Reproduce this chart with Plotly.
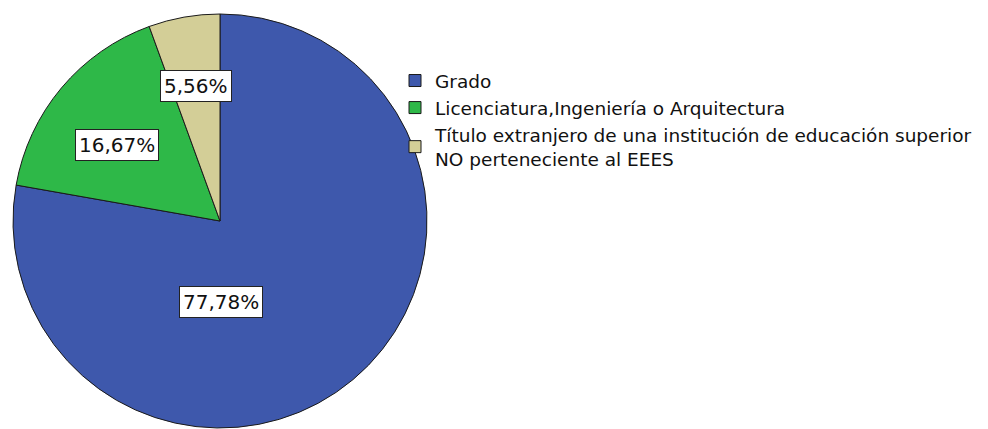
import math
import plotly.graph_objects as go

categories = [
    "Grado",
    "Licenciatura,Ingeniería o Arquitectura",
    "Título extranjero de una institución de educación superior<br>NO perteneciente al EEES",
]
counts = [14, 3, 1]
pct_labels = ["77,78%", "16,67%", "5,56%"]

colors = ["#3E58AC", "#2EB848", "#D3CE97"]

W, H = 988, 429
cx, cy, R = 212, 213, 207  # pie center/radius in px (layout)

fig = go.Figure()
fig.add_trace(go.Pie(
    labels=categories,
    values=counts,
    sort=False,
    direction="clockwise",
    rotation=0,
    textinfo="none",
    hoverinfo="label+percent",
    marker=dict(colors=colors, line=dict(color="#1a1a1a", width=1)),
    domain=dict(x=[(cx - R) / W, (cx + R) / W],
                y=[(H - cy - R) / H, (H - cy + R) / H]),
))

# label placement (style): radial fraction and angular offset per slice
label_rfrac = [0.39, 0.62, 0.66]
label_dang = [39.3, -3.7, 0]

total = sum(counts)
cum = 0
for v, txt, rf, da in zip(counts, pct_labels, label_rfrac, label_dang):
    mid = (cum + v / 2) / total * 360 + da
    cum += v
    th = math.radians(mid)
    px = cx + rf * R * math.sin(th)
    py = cy - rf * R * math.cos(th)
    fig.add_annotation(
        x=px / W, y=1 - py / H, xref="paper", yref="paper",
        xanchor="center", yanchor="middle",
        text=txt, showarrow=False,
        font=dict(family="DejaVu Sans", size=20, color="#111"),
        bgcolor="white", bordercolor="#222", borderwidth=1, borderpad=3,
    )

fig.update_layout(
    width=W, height=H,
    margin=dict(l=0, r=0, t=0, b=0),
    paper_bgcolor="white", plot_bgcolor="white",
    showlegend=True,
    legend=dict(
        x=387 / W, y=1 - 54 / H, xanchor="left", yanchor="top",
        font=dict(family="DejaVu Sans", size=18.5, color="#111"),
        bgcolor="rgba(0,0,0,0)", itemwidth=30, tracegroupgap=0,
    ),
    font=dict(family="DejaVu Sans"),
)

fig.write_html("out.html")
